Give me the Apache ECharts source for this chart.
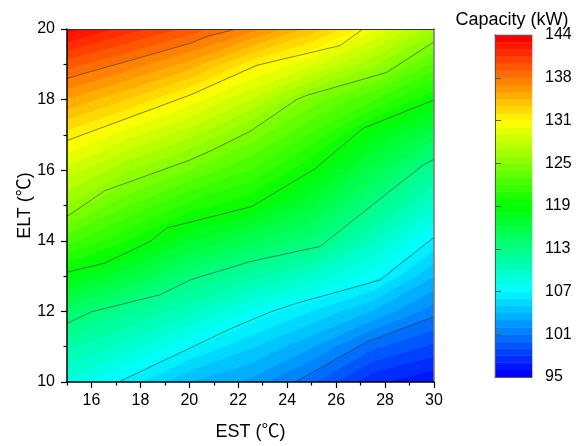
<!DOCTYPE html>
<html>
<head>
<meta charset="utf-8">
<title>Capacity contour</title>
<script src="https://cdn.jsdelivr.net/npm/echarts@6/dist/echarts.min.js"></script>
<style>
  html, body { margin: 0; padding: 0; background: #fff; }
  #chart { width: 587px; height: 446px; }
</style>
</head>
<body>
<div id="chart"></div>
<script>
// grid of the surface: EST columns, ELT rows
const estValues = [15, 17.5, 20, 22.5, 25, 27.5, 30]
const eltValues = [10, 11, 12, 13, 14, 15, 16, 17, 18, 19, 20]

// capacity (kW) per EST column, ELT from 10 to 20
const cap15 = [109.05, 111.65, 114.81, 119.04, 122.95, 126.51, 129.36, 132.31, 135.79, 139.4, 143.5]
const cap175 = [106.87, 109.76, 112.65, 116.59, 120.49, 123.58, 126.77, 130.14, 133.73, 137.53, 141.5]
const cap20 = [104.24, 107.41, 110.58, 113.82, 117.55, 121.17, 124.65, 128.02, 131.35, 135.42, 139.58]
const cap225 = [102.88, 105.39, 108.2, 111.87, 115.71, 119.61, 122.46, 125.31, 128.69, 132.3, 137.28]
const cap25 = [100.36, 103.29, 106.22, 110.02, 113.96, 116.74, 119.53, 122.35, 125.17, 129.99, 134.4]
const cap275 = [97.3, 100.37, 104.13, 107.73, 110.53, 113.33, 116.01, 118.7, 122.65, 126.98, 130.96]
const cap30 = [96.14, 98.85, 101.56, 104.27, 106.98, 109.74, 112.51, 115.9, 119.57, 123.3, 127.04]
const capacityByEst = [cap15, cap175, cap20, cap225, cap25, cap275, cap30]

// contour lines (EST, ELT)
const contour138 = [[15, 18.6], [20.07, 19.6], [20.71, 19.79], [21.95, 20]]
const contour132 = [[15, 16.84], [20.07, 18.14], [22.75, 18.97], [26.16, 19.53], [27.1, 20]]
const contour126 = [[15, 14.69], [16.55, 15.42], [20.03, 16.29], [20.97, 16.58], [22.48, 17.1], [24.39, 18.0], [24.8, 18.12], [28.07, 18.77], [30, 19.64]]
const contour120 = [[15, 13.11], [16.55, 13.37], [18.39, 13.98], [19.07, 14.36], [22.55, 14.97], [25.13, 16.04], [27.11, 17.19], [30, 17.99]]
const contour113 = [[15, 11.66], [16.0, 11.99], [18.8, 12.47], [20.03, 12.89], [22.48, 13.41], [25.34, 13.84], [29.56, 16.15], [30, 16.31]]
const contour107 = [[17.1, 10], [21.66, 11.5], [23.3, 11.98], [24.39, 12.23], [27.8, 12.89], [30, 14.1]]
const contour101 = [[24.32, 10], [27.25, 11.14], [30, 11.85]]
const contours = [contour138, contour132, contour126, contour120, contour113, contour107, contour101]

// colour scale
const colorbarTicks = [95, 101.125, 107.25, 113.375, 119.5, 125.625, 131.75, 137.875, 144]
const colorbarLabels = ['95', '101', '107', '113', '119', '125', '131', '138', '144']
const xTickValues = [16, 18, 20, 22, 24, 26, 28, 30]
const xMinorTickValues = [15, 17, 19, 21, 23, 25, 27, 29]

const FONT = '"Liberation Sans", Arial, "Noto Sans CJK SC", sans-serif'
const capMin = 95
const capMax = 144
const levelCount = 48
const rainbow = [[0, 0, 255], [0, 128, 255], [0, 255, 255], [0, 255, 128], [0, 255, 0], [128, 255, 0], [255, 255, 0], [255, 128, 0], [255, 0, 0]]

function rainbowColor(t) {
  const pos = t * (rainbow.length - 1)
  const i = Math.min(Math.floor(pos), rainbow.length - 2)
  const f = pos - i
  const c = rainbow[i].map((v, k) => Math.round(v + (rainbow[i + 1][k] - v) * f))
  return `rgb(${c.join(',')})`
}

const bandColors = []
for (let k = 0; k < levelCount; k++) {
  bandColors.push(rainbowColor(k / (levelCount - 1)))
}
const bandStops = []
bandColors.forEach((c, k) => {
  bandStops.push({ offset: k / levelCount, color: c })
  bandStops.push({ offset: (k + 1) / levelCount, color: c })
})

function bandColorOf(v) {
  const k = Math.max(0, Math.min(levelCount - 1, Math.floor((v - capMin) / (capMax - capMin) * levelCount)))
  return bandColors[k]
}

// one triangle, value linear inside -> banded linear gradient
function triangle(pts, vals) {
  const [x0, y0] = pts[0]
  const [x1, y1] = pts[1]
  const [x2, y2] = pts[2]
  const det = (x1 - x0) * (y2 - y0) - (x2 - x0) * (y1 - y0)
  const a = ((vals[1] - vals[0]) * (y2 - y0) - (vals[2] - vals[0]) * (y1 - y0)) / det
  const b = ((x1 - x0) * (vals[2] - vals[0]) - (x2 - x0) * (vals[1] - vals[0])) / det
  const g2 = a * a + b * b
  let fill
  if (g2 < 1e-9) {
    fill = bandColorOf(vals[0])
  } else {
    const s = (capMin - vals[0]) / g2
    const e = (capMax - vals[0]) / g2
    fill = {
      type: 'linear',
      x: x0 + a * s, y: y0 + b * s,
      x2: x0 + a * e, y2: y0 + b * e,
      global: true,
      colorStops: bandStops
    }
  }
  return {
    type: 'polygon',
    shape: { points: pts },
    style: { fill, stroke: fill, lineWidth: 1 }
  }
}

const fieldData = []
estValues.forEach((est, i) => {
  eltValues.forEach((elt, j) => {
    fieldData.push([est, elt, capacityByEst[i][j], i, j])
  })
})

function renderField(params, api) {
  const i = api.value(3)
  const j = api.value(4)
  if (i >= estValues.length - 1 || j >= eltValues.length - 1) {
    return
  }
  const corners = [[i, j], [i + 1, j], [i + 1, j + 1], [i, j + 1]]
  const pts = corners.map(([a, b]) => api.coord([estValues[a], eltValues[b]]))
  const vals = corners.map(([a, b]) => capacityByEst[a][b])
  return {
    type: 'group',
    children: [
      triangle([pts[0], pts[1], pts[2]], [vals[0], vals[1], vals[2]]),
      triangle([pts[0], pts[2], pts[3]], [vals[0], vals[2], vals[3]])
    ]
  }
}

function renderBand(params, api) {
  const k = api.value(0)
  const step = (capMax - capMin) / levelCount
  const top = api.coord([0, capMin + (k + 1) * step])
  const bottom = api.coord([1, capMin + k * step])
  return {
    type: 'rect',
    shape: { x: top[0], y: top[1], width: bottom[0] - top[0], height: bottom[1] - top[1] },
    style: { fill: bandColors[k], stroke: bandColors[k], lineWidth: 0.5 }
  }
}

const plainLine = (color, width) => ({ show: true, lineStyle: { color, width } })

const chart = echarts.init(document.getElementById('chart'), null, { renderer: 'canvas' })
chart.setOption({
  animation: false,
  backgroundColor: '#fff',
  textStyle: { fontFamily: FONT },
  title: {
    text: 'Capacity (kW)',
    left: 507,
    top: 6,
    textAlign: 'center',
    textStyle: { fontFamily: FONT, fontSize: 18, fontWeight: 'normal', color: '#000' }
  },
  grid: [
    { left: 67, top: 29, width: 367, height: 353 },
    { left: 495, top: 35, width: 37, height: 342 }
  ],
  xAxis: [
    {
      gridIndex: 0, type: 'value', min: 15, max: 30, position: 'bottom', z: 10,
      axisLine: plainLine('#000', 1.5),
      axisTick: { customValues: xTickValues, length: 6, lineStyle: { color: '#000', width: 1.2 } },
      axisLabel: { customValues: xTickValues, fontSize: 16, color: '#000', margin: 11, fontFamily: FONT },
      splitLine: { show: false },
      name: 'EST (℃)', nameLocation: 'middle', nameGap: 41,
      nameTextStyle: { fontSize: 18, color: '#000', fontFamily: FONT }
    },
    {
      gridIndex: 0, type: 'value', min: 15, max: 30, position: 'bottom', z: 10,
      axisLine: { show: false },
      axisTick: { customValues: xMinorTickValues, length: 3.5, lineStyle: { color: '#000', width: 1.2 } },
      axisLabel: { show: false },
      splitLine: { show: false }
    },
    {
      gridIndex: 0, type: 'value', min: 15, max: 30, position: 'top', z: 10,
      axisLine: plainLine('#333', 1),
      axisTick: { show: false }, axisLabel: { show: false }, splitLine: { show: false }
    },
    {
      gridIndex: 1, type: 'value', min: 0, max: 1, position: 'bottom', z: 10,
      axisLine: plainLine('#555', 1),
      axisTick: { show: false }, axisLabel: { show: false }, splitLine: { show: false }
    },
    {
      gridIndex: 1, type: 'value', min: 0, max: 1, position: 'top', z: 10,
      axisLine: plainLine('#555', 1),
      axisTick: { show: false }, axisLabel: { show: false }, splitLine: { show: false }
    }
  ],
  yAxis: [
    {
      gridIndex: 0, type: 'value', min: 10, max: 20, interval: 2, position: 'left', z: 10,
      axisLine: plainLine('#000', 1.5),
      axisTick: { length: 6, lineStyle: { color: '#000', width: 1.2 } },
      minorTick: { show: true, splitNumber: 2, length: 3.5, lineStyle: { color: '#000', width: 1.2 } },
      axisLabel: { fontSize: 16, color: '#000', margin: 12, fontFamily: FONT },
      splitLine: { show: false },
      name: 'ELT (℃)', nameLocation: 'middle', nameGap: 33, nameRotate: 90,
      nameMoveOverlap: false,
      nameTextStyle: { fontSize: 18, color: '#000', fontFamily: FONT }
    },
    {
      gridIndex: 0, type: 'value', min: 10, max: 20, position: 'right', z: 10,
      axisLine: plainLine('#777', 1.5),
      axisTick: { show: false }, axisLabel: { show: false }, splitLine: { show: false }
    },
    {
      gridIndex: 1, type: 'value', min: capMin, max: capMax, position: 'right', z: 10,
      axisLine: plainLine('#555', 1),
      axisTick: { customValues: colorbarTicks, length: 6, lineStyle: { color: '#555', width: 1 } },
      axisLabel: {
        customValues: colorbarTicks, fontSize: 16, color: '#000', margin: 13, fontFamily: FONT,
        formatter: (v) => {
          const idx = colorbarTicks.findIndex((t) => Math.abs(t - v) < 0.01)
          return idx >= 0 ? colorbarLabels[idx] : ''
        }
      },
      splitLine: { show: false }
    },
    {
      gridIndex: 1, type: 'value', min: capMin, max: capMax, position: 'left', z: 10,
      axisLine: plainLine('#555', 1),
      axisTick: { show: false }, axisLabel: { show: false }, splitLine: { show: false }
    }
  ],
  series: [
    {
      type: 'custom',
      xAxisIndex: 0,
      yAxisIndex: 0,
      clip: true,
      renderItem: renderField,
      data: fieldData,
      silent: true
    },
    ...contours.map((points) => ({
      type: 'line',
      xAxisIndex: 0,
      yAxisIndex: 0,
      data: points,
      symbol: 'none',
      smooth: false,
      clip: true,
      silent: true,
      lineStyle: { color: '#3a3a3a', width: 0.7, opacity: 0.85 }
    })),
    {
      type: 'custom',
      xAxisIndex: 3,
      yAxisIndex: 2,
      renderItem: renderBand,
      data: bandColors.map((c, k) => [k]),
      silent: true
    }
  ]
})
</script>
</body>
</html>
